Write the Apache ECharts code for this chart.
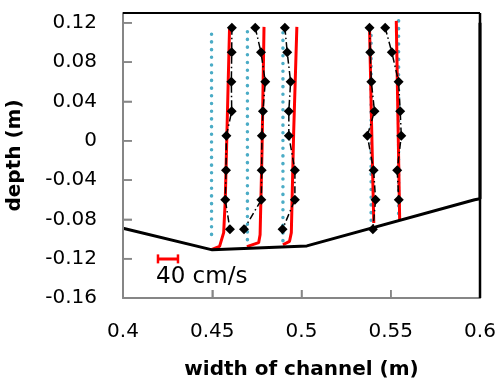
<!DOCTYPE html>
<html>
<head>
<meta charset="utf-8">
<script src="https://cdn.jsdelivr.net/npm/echarts@6/dist/echarts.min.js"></script>
<style>
  html, body { margin: 0; padding: 0; background: #fff; }
  #main { width: 498px; height: 382px; }
</style>
</head>
<body>
<div id="main"></div>
<script>
// measurement depths (m)
const depths = [0.115, 0.09, 0.06, 0.03, 0.005, -0.03, -0.06, -0.09];

// measured profiles (x position of each point, m)
const meas1 = [0.4610, 0.4609, 0.4607, 0.4609, 0.4579, 0.4577, 0.4573, 0.4599];
const meas2 = [0.4741, 0.4773, 0.4797, 0.4784, 0.4778, 0.4777, 0.4775, 0.4678];
const meas3 = [0.4907, 0.4920, 0.4939, 0.4929, 0.4929, 0.4963, 0.4963, 0.4894];
const meas4 = [0.5381, 0.5385, 0.5391, 0.5409, 0.5369, 0.5404, 0.5415, 0.5400];
const meas5 = [0.5469, 0.5506, 0.5544, 0.5553, 0.5559, 0.5536, 0.5545];

// modelled profiles [x, y]
const red1 = [[0.4597, 0.1157], [0.4573, -0.06], [0.4564, -0.0935], [0.4541, -0.1074], [0.4495, -0.1107]];
const red2 = [[0.4790, 0.1159], [0.4779, -0.0092], [0.4768, -0.0956], [0.4760, -0.1037], [0.4694, -0.1077]];
const red3 = [[0.4974, 0.1159], [0.4956, 0.008], [0.4943, -0.0935], [0.4933, -0.1023], [0.4896, -0.1058]];
const red4 = [[0.5381, 0.1159], [0.5392, 0.0213], [0.5405, -0.0837]];
const red5 = [[0.5531, 0.122], [0.5550, -0.081]];

// station reference lines (zero velocity)
const stationX = [0.4496, 0.4697, 0.4896, 0.5390, 0.5544];
const stationTop = [0.1085, 0.111, 0.110, 0.115, 0.122];
const stationBottom = [-0.102, -0.107, -0.105, -0.088, -0.079];

// channel outline
const chanX = [0.4, 0.45, 0.503, 0.597, 0.6, 0.6];
const chanY = [-0.089, -0.111, -0.107, -0.060, -0.059, 0.12];

// scale bar
const scaleX = [0.4196, 0.4308];
const scaleY = -0.1202;

const xTicks = [0.4, 0.45, 0.5, 0.55, 0.6];
const yTicks = [-0.16, -0.12, -0.08, -0.04, 0, 0.04, 0.08, 0.12];
const xMin = 0.4, xMax = 0.6, yMin = -0.16, yMax = 0.13;

const font = 'DejaVu Sans';
const gray = '#868686';

let myChart = echarts.init(document.getElementById('main'));

let series = [];
// plot frame and inside ticks as plain line series
const edge = (pts, c, w) => ({
    type: 'line', symbol: 'none', silent: true, clip: false, z: 6,
    data: pts, lineStyle: {color: c, width: w, type: 'solid'}
});
series.push(edge([[xMin, yMin], [xMin, yMax]], gray, 2));
series.push(edge([[xMin, yMin], [xMax, yMin]], gray, 2));
series.push(edge([[xMin, yMax], [xMax, yMax]], '#000', 2));
series.push(edge([[xMax, yMin], [xMax, yMax]], '#000', 2.5));
xTicks.slice(1, -1).forEach(t => series.push(edge([[t, yMin], [t, yMin + 0.0081]], gray, 1.5)));
yTicks.slice(1).forEach(t => series.push(edge([[xMin, t], [xMin + 0.005, t]], gray, 1.5)));

stationX.forEach((x, i) => {
    series.push({
        type: 'line', symbol: 'none', silent: true, z: 2,
        data: [[x, stationTop[i]], [x, stationBottom[i]]],
        lineStyle: {color: '#4BACC6', width: 3.5, type: [0.1, 7.6], cap: 'round'}
    });
});
[red1, red2, red3, red4, red5].forEach(r => {
    series.push({
        type: 'line', symbol: 'none', silent: true, z: 3,
        data: r,
        lineStyle: {color: '#FF0000', width: 3}
    });
});
[meas1, meas2, meas3, meas4, meas5].forEach(m => {
    series.push({
        type: 'line', symbol: 'diamond', symbolSize: 10, z: 4,
        data: m.map((x, i) => [x, depths[i]]),
        itemStyle: {color: '#000'},
        lineStyle: {color: '#000', width: 1.5, type: [7, 3, 1.5, 3]}
    });
});
series.push({
    type: 'line', symbol: 'none', z: 5,
    data: chanX.map((x, i) => [x, chanY[i]]),
    lineStyle: {color: '#000', width: 3}
});
series.push({
    type: 'line', symbol: 'rect', symbolSize: [2.5, 9], z: 5,
    data: scaleX.map(x => [x, scaleY]),
    itemStyle: {color: '#FF0000'},
    lineStyle: {color: '#FF0000', width: 3}
});

let option = {
    animation: false,
    grid: {left: 123, top: 13, right: 18, bottom: 84, outerBoundsMode: 'none'},
    graphic: [{
        type: 'text', left: 156, top: 266,
        style: {text: '40 cm/s', fontFamily: font, fontSize: 23, fill: '#000'}
    }],
    xAxis: {
        type: 'value', min: xMin, max: xMax, interval: 0.05,
        name: 'width of channel (m)', nameLocation: 'middle', nameGap: 62,
        nameTextStyle: {fontFamily: font, fontSize: 20, fontWeight: 'bold', color: '#000'},
        axisLine: {show: true, onZero: false, lineStyle: {color: gray, width: 2}},
        axisTick: {show: true, inside: true, length: 8, lineStyle: {color: gray, width: 1.5}},
        axisLabel: {
            margin: 24, fontFamily: font, fontSize: 20, color: '#000',
            formatter: v => xTicks.some(t => Math.abs(t - v) < 1e-9) ? String(+v.toFixed(2)) : ''
        },
        splitLine: {show: false}
    },
    yAxis: {
        type: 'value', min: yMin, max: yMax, interval: 0.04,
        name: 'depth (m)', nameLocation: 'middle', nameGap: 98, nameRotate: 90,
        nameTextStyle: {fontFamily: font, fontSize: 20, fontWeight: 'bold', color: '#000'},
        axisLine: {show: true, onZero: false, lineStyle: {color: gray, width: 2}},
        axisTick: {show: true, inside: true, length: 9, lineStyle: {color: gray, width: 1.5}},
        axisLabel: {
            margin: 26, fontFamily: font, fontSize: 20, color: '#000', showMaxLabel: false,
            formatter: v => yTicks.some(t => Math.abs(t - v) < 1e-9) ? String(+v.toFixed(2)) : ''
        },
        splitLine: {show: false}
    },
    series: series
};
myChart.setOption(option);
</script>
</body>
</html>
